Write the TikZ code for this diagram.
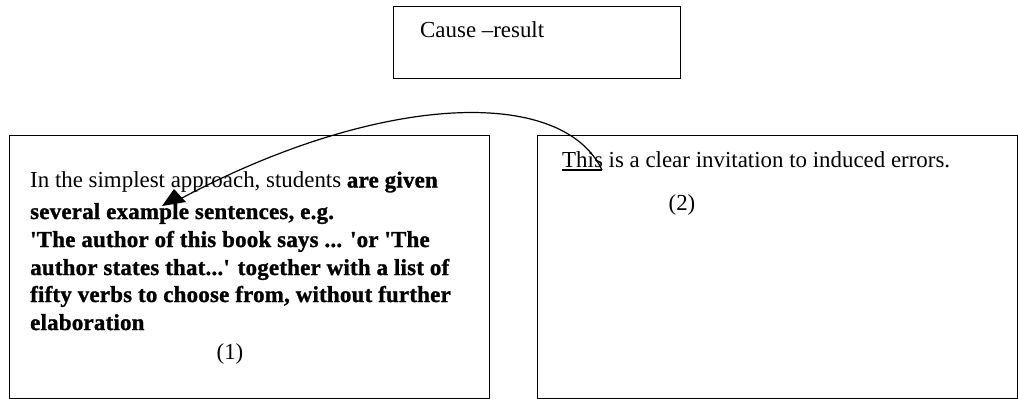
\documentclass[tikz,border=0pt]{standalone}
\usepackage{fontspec}
\setmainfont{Liberation Serif}[Ligatures=TeXOff,BoldFeatures={FakeBold=1.2,LetterSpace=1.0}]
\begin{document}
\begin{tikzpicture}[x=1pt,y=-1pt,
  boxstyle/.style={draw, line width=1.3pt, rectangle, inner sep=0pt, anchor=north west},
  txt/.style={anchor=base west, inner sep=0pt, font=\fontsize{22.9}{28}\selectfont},
  ctxt/.style={anchor=base, inner sep=0pt, font=\fontsize{22.9}{28}\selectfont},
  conn/.style={line width=1.2pt}]
\useasboundingbox (0,0) rectangle (1018,399);
% boxes
\node (boxtop) [boxstyle, minimum width=287pt, minimum height=72pt] at (393,6) {};
\node (box1) [boxstyle, minimum width=480.5pt, minimum height=263pt] at (8.5,135) {};
\node (box2) [boxstyle, minimum width=479.5pt, minimum height=263pt] at (537,135) {};
% texts
\node (ct) [txt] at (420,37) {Cause –result};
\node (l1) [txt] at (30,187.5) {In the simplest approach, students \textbf{are given}};
\node (l2) [txt] at (30,219) {\textbf{several example sentences, e.g.}};
\node (l3) [txt] at (30,247) {\textbf{'The author of this book says ... 'or 'The}};
\node (l4) [txt] at (30,275) {\textbf{author states that...' together with a list of}};
\node (l5) [txt] at (30,302) {\textbf{fifty verbs to choose from, without further}};
\node (l6) [txt] at (30,330) {\textbf{elaboration}};
\node (n1) [ctxt] at (230,359) {(1)};
\node (r1) [txt] at (562,167) {This is a clear invitation to induced errors.};
\node (n2) [ctxt] at (682,210) {(2)};
% underline of "This"
\coordinate (ulstart) at (562,170);
\coordinate (ulend) at (602,170);
\draw[line width=1.6pt] (ulstart) -- (ulend);
% curved connector
\coordinate (headbase) at (182,198);
\draw[conn] (ulend) .. controls (562,86) and (380,93) .. (headbase);
\fill (174,189) -- (162,206) -- (186,202) -- cycle;
\end{tikzpicture}
\end{document}
